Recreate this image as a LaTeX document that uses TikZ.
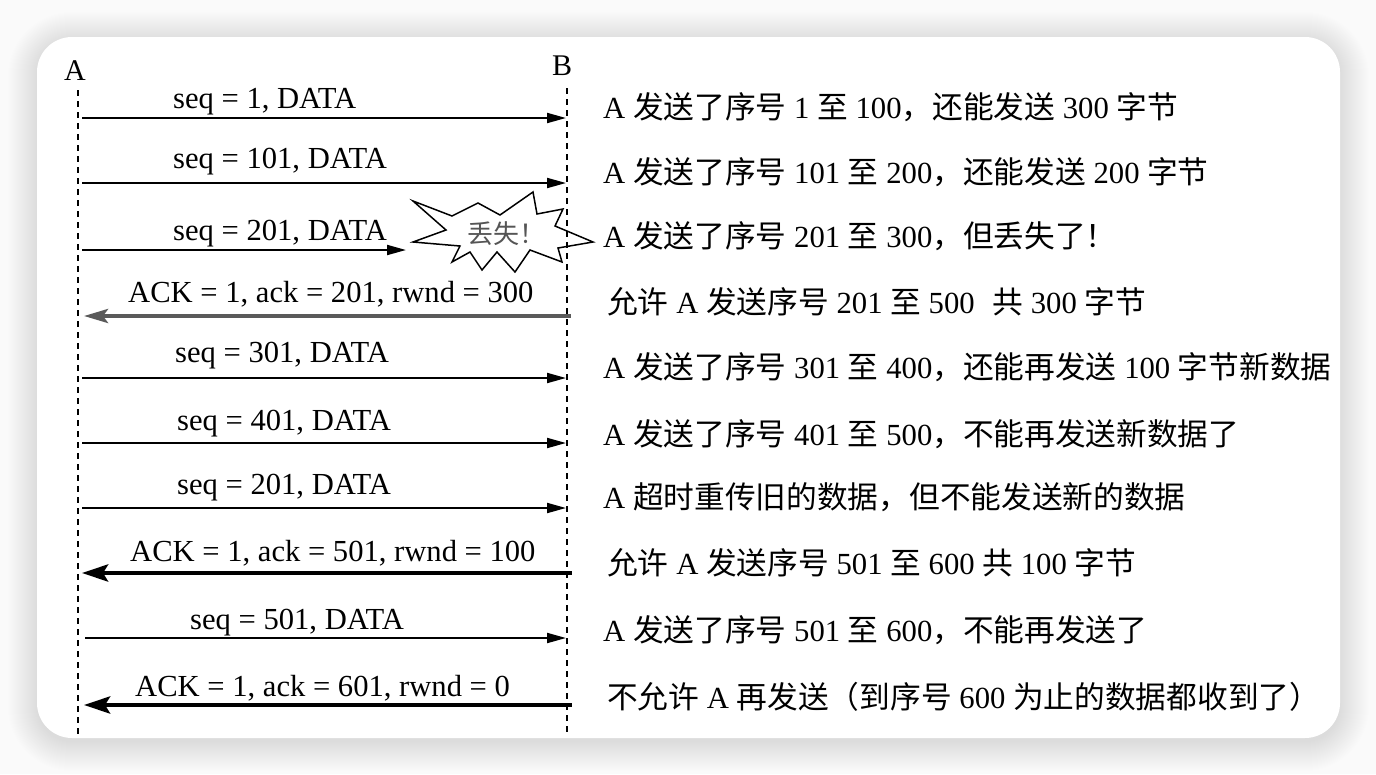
\documentclass[tikz,border=0pt]{standalone}
\usepackage{fontspec}
\setmainfont{Liberation Serif}
\newfontfamily\zhfont{Noto Sans CJK SC}
\newcommand{\zh}[1]{{\zhfont #1}}
\usetikzlibrary{arrows.meta}
\definecolor{pagebg}{HTML}{FAFAFA}
\definecolor{ackgray}{HTML}{5A5A5A}
\definecolor{losttext}{HTML}{555555}
\begin{document}
\begin{tikzpicture}[x=1pt,y=-1pt,
  lifeline/.style={line width=1.1pt, dash pattern=on 6pt off 5pt},
  msg/.style={line width=2pt, -{Triangle[length=19pt,width=10pt]}},
  ackbold/.style={line width=4.5pt, {Stealth[length=26pt,width=17pt,inset=5pt]}-},
  ackgrey/.style={line width=4pt, draw=ackgray, {Stealth[length=24pt,width=14pt,inset=5pt]}-},
  lbl/.style={font=\fontsize{30.6}{32}\selectfont, inner sep=0pt, anchor=base west},
  note/.style={font=\fontsize{30.7}{32}\selectfont, inner sep=0pt, anchor=base west},
  endname/.style={font=\fontsize{30}{32}\selectfont, inner sep=0pt, anchor=base}
]
\useasboundingbox (0,0) rectangle (1376,774);
\fill[pagebg] (0,0) rectangle (1376,774);
% soft shadow of the card
\foreach \i in {0,...,29} {
  \pgfmathsetmacro\r{35+\i}
  \fill[black, opacity=0.005, rounded corners=\r pt] (37-\i,37-\i+4) rectangle (1340+\i,738+\i+4);
}
\fill[white, rounded corners=35pt] (37,37) rectangle (1340,738);

% end names
\node[endname] (A) at (75,80) {A};
\node[endname] (B) at (562,75) {B};

% lost-packet burst
\draw[line width=1.5pt, fill=white]
  (413,201) -- (452,216) -- (478,203) -- (500,215) -- (533,192) -- (537,214)
  -- (563,209) -- (555,226) -- (593,242) -- (558,248) -- (562,262) -- (530,250)
  -- (515,272) -- (497,252) -- (482,270) -- (470,252) -- (452,262) -- (460,246)
  -- (413,242) -- (446,230) -- cycle;
\node[font=\fontsize{26}{28}\selectfont, text=losttext, inner sep=0pt] (lost) at (506,234) {\zh{丢失！}};

% lifelines
\coordinate (Atop) at (78,90);  \coordinate (Abot) at (78,736);
\coordinate (Btop) at (567,88); \coordinate (Bbot) at (567,732);
\draw[lifeline] (Atop) -- (Abot);
\draw[lifeline] (Btop) -- (Bbot);

% arrow end points
\coordinate (a1) at (82,118);  \coordinate (b1) at (566,118);
\coordinate (a2) at (82,183);  \coordinate (b2) at (566,183);
\coordinate (a3) at (82,250);  \coordinate (b3) at (406,250);
\coordinate (a4) at (84,316);  \coordinate (b4) at (571,316);
\coordinate (a5) at (82,378);  \coordinate (b5) at (566,378);
\coordinate (a6) at (82,443);  \coordinate (b6) at (566,443);
\coordinate (a7) at (82,508);  \coordinate (b7) at (566,508);
\coordinate (a8) at (82,573);  \coordinate (b8) at (572,573);
\coordinate (a9) at (85,638);  \coordinate (b9) at (566,638);
\coordinate (a10) at (84,705); \coordinate (b10) at (572,705);

\draw[msg] (a1) -- (b1);
\draw[msg] (a2) -- (b2);
\draw[msg] (a3) -- (b3);
\draw[ackgrey] (a4) -- (b4);
\draw[msg] (a5) -- (b5);
\draw[msg] (a6) -- (b6);
\draw[msg] (a7) -- (b7);
\draw[ackbold] (a8) -- (b8);
\draw[msg] (a9) -- (b9);
\draw[ackbold] (a10) -- (b10);

% arrow labels
\node[lbl] (l1) at (173,108) {seq = 1, DATA};
\node[lbl] (l2) at (173,168) {seq = 101, DATA};
\node[lbl] (l3) at (173,240) {seq = 201, DATA};
\node[lbl] (l4) at (128,302) {ACK = 1, ack = 201, rwnd = 300};
\node[lbl] (l5) at (175,362) {seq = 301, DATA};
\node[lbl] (l6) at (177,430) {seq = 401, DATA};
\node[lbl] (l7) at (177,494) {seq = 201, DATA};
\node[lbl] (l8) at (130,561) {ACK = 1, ack = 501, rwnd = 100};
\node[lbl] (l9) at (190,629) {seq = 501, DATA};
\node[lbl] (l10) at (135,696) {ACK = 1, ack = 601, rwnd = 0};

% explanations
\node[note] (n1) at (603,118) {A \zh{发送了序号} 1 \zh{至} 100\zh{，还能发送} 300 \zh{字节}};
\node[note] (n2) at (603,183) {A \zh{发送了序号} 101 \zh{至} 200\zh{，还能发送} 200 \zh{字节}};
\node[note] (n3) at (603,247) {A \zh{发送了序号} 201 \zh{至} 300\zh{，但丢失了！}};
\node[note] (n4) at (607,313) {\zh{允许} A \zh{发送序号} 201 \zh{至} 500\hspace{10pt} \zh{共} 300 \zh{字节}};
\node[note] (n5) at (603,378) {A \zh{发送了序号} 301 \zh{至} 400\zh{，还能再发送} 100 \zh{字节新数据}};
\node[note] (n6) at (603,445) {A \zh{发送了序号} 401 \zh{至} 500\zh{，不能再发送新数据了}};
\node[note] (n7) at (603,508) {A \zh{超时重传旧的数据，但不能发送新的数据}};
\node[note] (n8) at (607,574) {\zh{允许} A \zh{发送序号} 501 \zh{至} 600 \zh{共} 100 \zh{字节}};
\node[note] (n9) at (603,641) {A \zh{发送了序号} 501 \zh{至} 600\zh{，不能再发送了}};
\node[note] (n10) at (607,708) {\zh{不允许} A \zh{再发送（到序号} 600 \zh{为止的数据都收到了）}};
\end{tikzpicture}
\end{document}
